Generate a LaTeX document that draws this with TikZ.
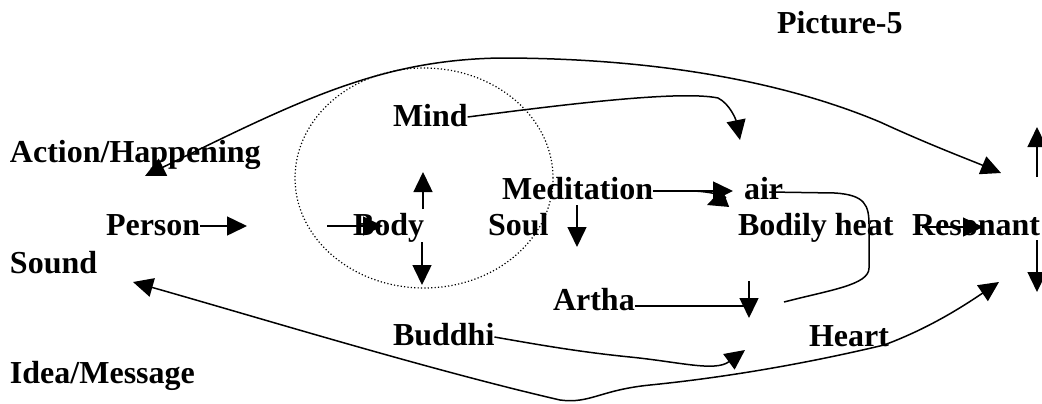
\documentclass[tikz,border=0pt]{standalone}
\usepackage{fontspec}
\setmainfont{Liberation Serif}
\usetikzlibrary{arrows.meta}
\begin{document}
\begin{tikzpicture}[x=0.5pt,y=-0.5pt,
  lbl/.style={font=\bfseries\fontsize{16}{19}\selectfont,inner sep=0pt,outer sep=0pt,anchor=base west},
  conn/.style={line width=0.75pt},
  arr/.style={conn,-{Triangle[length=10pt,width=9.5pt]}},
  darr/.style={conn,{Triangle[length=10pt,width=9.5pt]}-{Triangle[length=10pt,width=9.5pt]}},
  ring/.style={line width=0.6pt,dash pattern=on 0.6pt off 1.1pt}]
\useasboundingbox (0,0) rectangle (1042,403);

% dotted ellipse
\draw[ring] (424,178) ellipse [x radius=64.5pt, y radius=55pt];

% labels
\node[lbl] (pic)    at (777,33)  {Picture-5};
\node[lbl] (mind)   at (393,126) {Mind};
\node[lbl] (action) at (10,162)  {Action/Happening};
\node[lbl] (med)    at (502,199) {Meditation};
\node[lbl] (air)    at (744,199) {air};
\node[lbl] (person) at (106,235) {Person};
\node[lbl] (body)   at (353,235) {Body};
\node[lbl] (soul)   at (488,235) {Soul};
\node[lbl] (bheat)  at (738,235) {Bodily heat};
\node[lbl] (reson)  at (912,235) {Resonant};
\node[lbl] (sound)  at (10,273)  {Sound};
\node[lbl] (artha)  at (553,310) {Artha};
\node[lbl] (buddhi) at (393,345) {Buddhi};
\node[lbl] (heart)  at (809,346) {Heart};
\node[lbl] (idea)   at (10,383)  {Idea/Message};

% free ends
\coordinate (personT) at (247,226);
\coordinate (bodyS) at (327,226);
\coordinate (bodyT) at (383,226);
\coordinate (upS) at (423,209);
\coordinate (upT) at (423,172);
\coordinate (dnS) at (422,242);
\coordinate (dnT) at (422,285);
\coordinate (soulS) at (577,205);
\coordinate (soulT) at (577,247);
\coordinate (mindT) at (740,140);
\coordinate (actT) at (145,176);
\coordinate (resT) at (1001,173);
\coordinate (medT) at (733,191);
\coordinate (medT2) at (707,205);
\coordinate (airE) at (784,302);
\coordinate (arthaJ) at (749,306);
\coordinate (arthaS) at (749,281);
\coordinate (arthaT) at (749,318);
\coordinate (budT) at (745,350);
\coordinate (soundT) at (133,282);
\coordinate (resT2) at (999,282);
\coordinate (rsS) at (922,227);
\coordinate (rsT) at (983,227);
\coordinate (ruS) at (1037,177);
\coordinate (ruT) at (1037,127);
\coordinate (rdS) at (1037,240);
\coordinate (rdT) at (1037,292);

% straight arrows
\draw[arr] ([yshift=4.5pt]person.base east) -- (personT);
\draw[arr] (bodyS) -- (bodyT);
\draw[arr] (upS) -- (upT);
\draw[arr] (dnS) -- (dnT);
\draw[arr] (soulS) -- (soulT);
\draw[arr] ([yshift=4pt]med.base east) -- (medT);
\draw[arr] (rsS) -- (rsT);
\draw[arr] (ruS) -- (ruT);
\draw[arr] (rdS) -- (rdT);
\draw[arr] (arthaS) -- (arthaT);
\draw[conn] ([yshift=2pt]artha.base east) -- (arthaJ);

% Meditation second curved arrow
\draw[arr] ([yshift=4pt]med.base east) -- (690,191) .. controls (712,191) and (728,197) .. (medT2);

% Mind curve
\draw[arr] ([yshift=4.5pt]mind.base east) .. controls (560,105) and (680,90) .. (718,98)
  .. controls (730,104) and (736,120) .. (mindT);

% top double-headed curve
\draw[darr] (actT) .. controls (300,100) and (380,60) .. (500,58)
  .. controls (650,58) and (780,80) .. (880,122)
  .. controls (930,145) and (970,160) .. (resT);

% air loop
\draw[conn] ([xshift=-7pt,yshift=3.5pt]air.base east) -- (835,193)
  .. controls (865,195) and (869,205) .. (869,225) -- (869,268)
  .. controls (869,285) and (830,290) .. (airE);

% Buddhi curve
\draw[arr] ([yshift=4pt]buddhi.base east) .. controls (540,345) and (580,352) .. (630,357)
  .. controls (680,362) and (715,372) .. (budT);

% bottom double-headed curve
\draw[darr] (soundT) .. controls (260,318) and (430,370) .. (560,400)
  .. controls (590,404) and (600,390) .. (650,385)
  .. controls (720,378) and (800,365) .. (884,345)
  .. controls (930,328) and (965,305) .. (resT2);
\end{tikzpicture}
\end{document}
